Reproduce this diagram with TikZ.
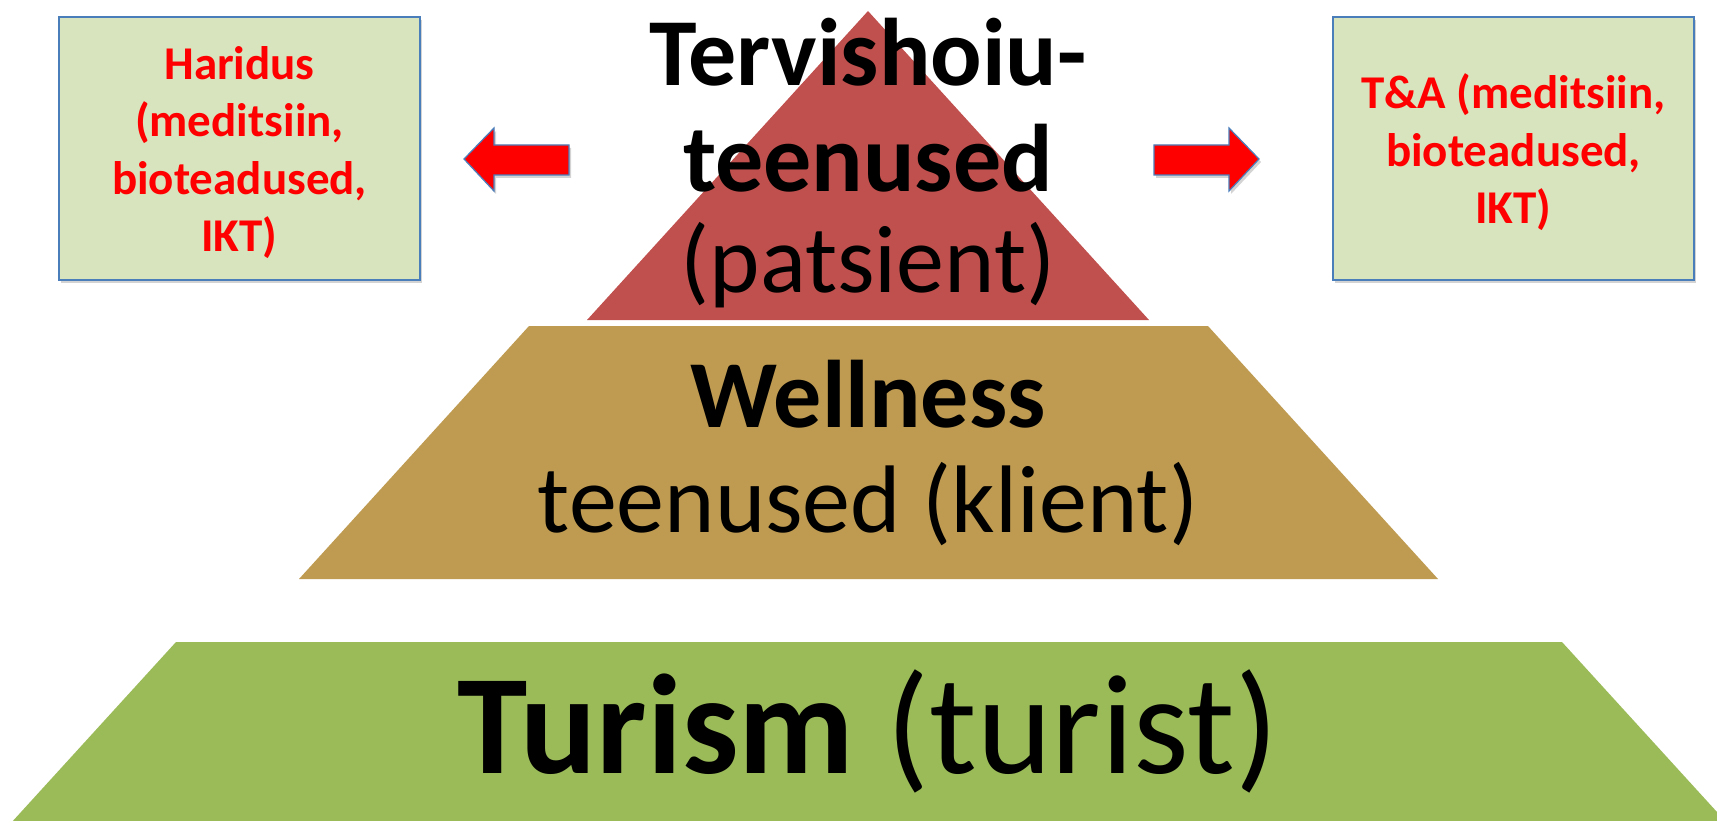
\documentclass[tikz,border=0pt]{standalone}
\usepackage{fontspec}
\setmainfont{Carlito}
\usetikzlibrary{shadows}
\definecolor{pyrred}{HTML}{C0504D}
\definecolor{pyrtan}{HTML}{BF9B52}
\definecolor{pyrgreen}{HTML}{9BBB59}
\definecolor{boxfill}{HTML}{D7E4BD}
\definecolor{boxline}{HTML}{4A7EBB}
\definecolor{txtred}{HTML}{FF0000}
\begin{document}
\begin{tikzpicture}[x=1pt,y=-1pt,
  lvlbold/.style={anchor=base,inner sep=0pt,font=\fontsize{96}{106}\selectfont\bfseries},
  lvlreg/.style={anchor=base,inner sep=0pt,font=\fontsize{96}{106}\selectfont},
  sidebox/.style={draw=boxline,line width=1.5pt,fill=boxfill,minimum width=361pt,minimum height=263pt,inner sep=0pt,
    drop shadow={shadow xshift=2pt,shadow yshift=-3pt,opacity=0.35}},
  sidetext/.style={inner sep=0pt,align=center,text=txtred,font=\fontsize{47}{57.5}\selectfont\bfseries},
  blockarrow/.style={fill=txtred,draw=boxline,line width=1.2pt,line join=miter,
    drop shadow={shadow xshift=2pt,shadow yshift=-3pt,opacity=0.35}}
]
\useasboundingbox (0,0) rectangle (1717,821);
\begin{scope}
  \clip (0,0) rectangle (1717,821);
  \fill[pyrgreen] (176,642) -- (1562,642) -- (1727,823) -- (11,823) -- cycle;
\end{scope}
\fill[pyrtan] (529,326) -- (1208,326) -- (1438,579) -- (299,579) -- cycle;
\fill[pyrred] (868,11) -- (1149,320) -- (587,320) -- cycle;

\node[lvlbold] (t1) at (868,86) {Tervishoiu-};
\node[lvlbold] (t2) at (868,192) {teenused};
\node[lvlreg] (t3) at (868,293) {(patsient)};
\node[lvlbold] (w1) at (868,427) {Wellness};
\node[lvlreg] (w2) at (868,532) {teenused (klient)};
\node[anchor=base,inner sep=0pt,font=\fontsize{142}{150}\selectfont] (tu) at (868,773) {\textbf{Turism} (turist)};

\node[sidebox] (lb) at (239.5,148.5) {};
\node[sidetext] (lt) at ([yshift=-4pt]lb.center) {Haridus\\(meditsiin,\\bioteadused,\\IKT)};
\node[sidebox] (rb) at (1513.5,148.5) {};
\node[sidetext] (rt) at ([yshift=-4pt]rb.center) {T\&A (meditsiin,\\bioteadused,\\IKT)};

\path[blockarrow] (464,159) -- (494,128) -- (494,145) -- (569,145) -- (569,175) -- (494,175) -- (494,191) -- cycle;
\path[blockarrow] (1259,159) -- (1229,128) -- (1229,145) -- (1154,145) -- (1154,175) -- (1229,175) -- (1229,191) -- cycle;
\end{tikzpicture}
\end{document}
